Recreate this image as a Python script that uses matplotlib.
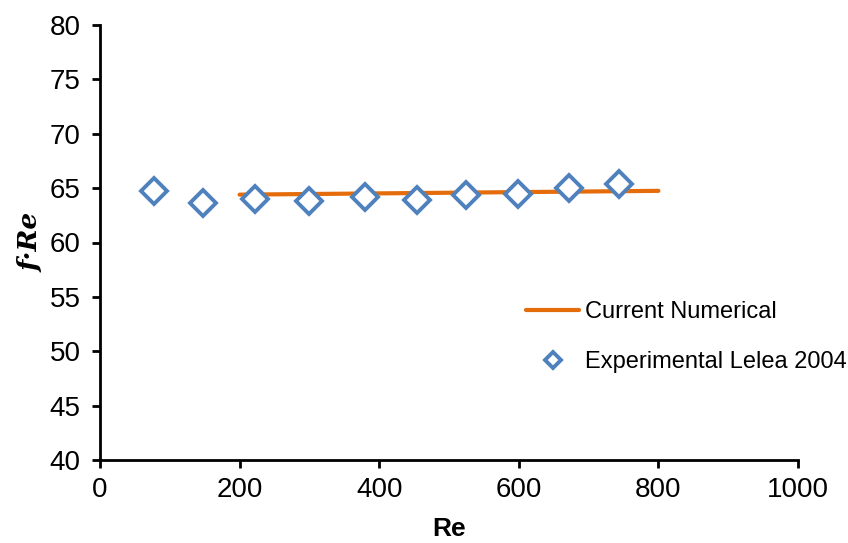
import numpy as np
import matplotlib.pyplot as plt

# numerical result (straight line between end points)
re_num = [200, 800]
fre_num = [64.4, 64.75]

# experimental data, Lelea 2004
re_exp = [78, 148, 222, 299, 380, 454, 524, 599, 672, 743]
fre_exp = [64.7, 63.6, 64.0, 63.8, 64.2, 63.95, 64.4, 64.5, 65.05, 65.4]

xticks = [0, 200, 400, 600, 800, 1000]
yticks = [40, 45, 50, 55, 60, 65, 70, 75, 80]

plt.rcParams['font.family'] = ['Liberation Sans', 'DejaVu Sans']

fig = plt.figure(figsize=(8.48, 5.43), dpi=100)
ax = fig.add_axes([100 / 848, 1 - 460 / 543, 698 / 848, 435 / 543])

ax.plot(re_num, fre_num, color='#E46C0A', lw=3, solid_capstyle='round',
        label='Current Numerical')
ax.plot(re_exp, fre_exp, ls='none', marker='D', ms=13, mfc='white',
        mec='#4F81BD', mew=2.8, label='Experimental Lelea 2004')

ax.set_xlim(0, 1000)
ax.set_ylim(40, 80)
ax.set_xticks(xticks)
ax.set_yticks(yticks)
ax.tick_params(labelsize=20, direction='out', length=6, width=2)
ax.tick_params(axis='y', pad=8)
ax.tick_params(axis='x', pad=6)

for s in ['top', 'right']:
    ax.spines[s].set_visible(False)
for s in ['left', 'bottom']:
    ax.spines[s].set_linewidth(2)

ax.set_xlabel('Re', fontsize=19, fontweight='bold', labelpad=10)
ax.set_ylabel('f·Re', fontsize=19, fontweight='bold', fontstyle='italic',
              family=['DejaVu Serif'], labelpad=4)

ax.legend(loc='upper left', bbox_to_anchor=(0.58, 0.414), frameon=False,
          fontsize=17, handlelength=2.25, labelspacing=1.2, handletextpad=0.25,
          markerscale=0.65)

fig.savefig('out.png', dpi=100)
